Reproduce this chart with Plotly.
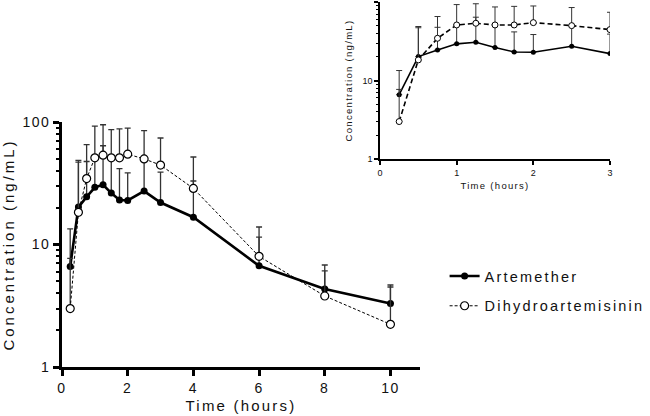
import plotly.graph_objects as go

time = [0.25, 0.5, 0.75, 1, 1.25, 1.5, 1.75, 2, 2.5, 3, 4, 6, 8, 10]
art_mean = [6.6, 20.2, 24.5, 29.3, 30.7, 26.3, 23.1, 22.9, 27.3, 22.0, 16.7, 6.7, 4.33, 3.3]
art_upper = [13.4, 48.7, 47.6, 51.0, 64.0, 51.0, 41.6, 38.5, 50.0, 39.0, 33.0, 11.5, 6.08, 4.5]
dha_mean = [3.0, 18.3, 34.5, 51.0, 53.6, 51.0, 51.0, 54.6, 50.0, 44.5, 28.7, 8.0, 3.8, 2.23]
dha_upper = [7.7, 47.0, 65.3, 92.7, 95.0, 86.5, 88.0, 89.0, 85.0, 74.0, 51.8, 13.9, 6.8, 4.67]

inset_max_time = 3
main_xticks = [0, 2, 4, 6, 8, 10]
inset_xticks = [0, 1, 2, 3]
yticks = [1, 10, 100]
yminor = [2, 3, 4, 5, 6, 7, 8, 9, 20, 30, 40, 50, 60, 70, 80, 90]

FONT = "Liberation Sans, Arial, sans-serif"
W, H = 650, 416


def sp(text, px):
    return f'<span style="letter-spacing:{px}px">{text}</span>'


def err(mean, upper):
    return [u - m for m, u in zip(mean, upper)]


fig = go.Figure()

# main panel
fig.add_trace(go.Scatter(
    x=time, y=art_mean, name=sp("Artemether", 2.2), mode="lines+markers",
    line=dict(color="black", width=2.6),
    marker=dict(symbol="circle", size=7, color="black"),
    error_y=dict(type="data", symmetric=False, array=err(art_mean, art_upper),
                 arrayminus=[0] * len(time), color="#333", thickness=1.3, width=3),
    xaxis="x", yaxis="y", legendgroup="a"))
fig.add_trace(go.Scatter(
    x=time, y=dha_mean, name=sp("Dihydroartemisinin", 2.2), mode="lines+markers",
    line=dict(color="black", width=1, dash="3px,2px"),
    marker=dict(symbol="circle", size=8, color="white", line=dict(color="black", width=1.2)),
    error_y=dict(type="data", symmetric=False, array=err(dha_mean, dha_upper),
                 arrayminus=[0] * len(time), color="#333", thickness=1.3, width=3),
    xaxis="x", yaxis="y", legendgroup="b"))

# inset panel
n = sum(1 for t in time if t <= inset_max_time)
fig.add_trace(go.Scatter(
    x=time[:n], y=art_mean[:n], mode="lines+markers", showlegend=False,
    line=dict(color="black", width=1.6),
    marker=dict(symbol="circle", size=5, color="black"),
    error_y=dict(type="data", symmetric=False, array=err(art_mean[:n], art_upper[:n]),
                 arrayminus=[0] * n, color="#333", thickness=1, width=3),
    xaxis="x2", yaxis="y2"))
fig.add_trace(go.Scatter(
    x=time[:n], y=dha_mean[:n], mode="lines+markers", showlegend=False,
    line=dict(color="black", width=1.6, dash="5px,3px"),
    marker=dict(symbol="circle", size=6, color="white", line=dict(color="black", width=1)),
    error_y=dict(type="data", symmetric=False, array=err(dha_mean[:n], dha_upper[:n]),
                 arrayminus=[0] * n, color="#333", thickness=1, width=3),
    xaxis="x2", yaxis="y2"))

axis_common = dict(showgrid=False, zeroline=False, showline=True, linecolor="black",
                   ticks="outside", tickcolor="black", mirror=False, automargin=False)

fig.update_layout(
    width=W, height=H, margin=dict(l=0, r=0, t=0, b=0, autoexpand=False),
    paper_bgcolor="white", plot_bgcolor="rgba(0,0,0,0)",
    font=dict(family=FONT, color="#111"),
    showlegend=True,
    legend=dict(x=0.684, y=1 - 260 / H, xanchor="left", yanchor="top",
                font=dict(size=14.5, family=FONT), tracegroupgap=8,
                bgcolor="rgba(0,0,0,0)", itemwidth=30),
    xaxis=dict(**axis_common, domain=[62 / W, 420 / W], range=[0, 10.9],
               tickvals=main_xticks, ticktext=[sp(str(v), 1.5) for v in main_xticks],
               linewidth=2.6, tickwidth=2.6, ticklen=6,
               tickfont=dict(size=14), anchor="y",
               title=dict(text=sp("Time (hours)", 2.2), font=dict(size=15), standoff=6)),
    yaxis=dict(**axis_common, domain=[1 - 367 / H, 1 - 122 / H], type="log", range=[0, 2],
               tickvals=yticks, ticktext=[sp(str(v), 1.5) for v in yticks],
               linewidth=2.6, tickwidth=2.6, ticklen=6,
               minor=dict(ticks="outside", ticklen=3.5, tickwidth=1.6, tickcolor="black",
                          tickvals=yminor, showgrid=False),
               tickfont=dict(size=14), anchor="x",
               title=dict(text=sp("Concentration (ng/mL)", 3), font=dict(size=15), standoff=8)),
    xaxis2=dict(**axis_common, domain=[380 / W, 610 / W], range=[0, 3],
                tickvals=inset_xticks, ticktext=[str(v) for v in inset_xticks],
                linewidth=1.6, tickwidth=1.6, ticklen=4,
                tickfont=dict(size=9), anchor="y2",
                title=dict(text=sp("Time (hours)", 1.3), font=dict(size=9.5), standoff=6)),
    yaxis2=dict(**axis_common, domain=[1 - 159 / H, 1 - 2 / H], type="log", range=[0, 2],
                tickvals=yticks, ticktext=[str(v) for v in yticks],
                linewidth=1.6, tickwidth=1.6, ticklen=4,
                minor=dict(ticks="outside", ticklen=2.5, tickwidth=1, tickcolor="black",
                           tickvals=yminor, showgrid=False),
                tickfont=dict(size=9), anchor="x2",
                title=dict(text=sp("Concentration (ng/mL)", 1.3), font=dict(size=9.5), standoff=8)),
)

fig.write_html("out.html", config={"displayModeBar": False},
               post_script="document.body.style.margin='0';document.body.style.overflow='hidden';")
